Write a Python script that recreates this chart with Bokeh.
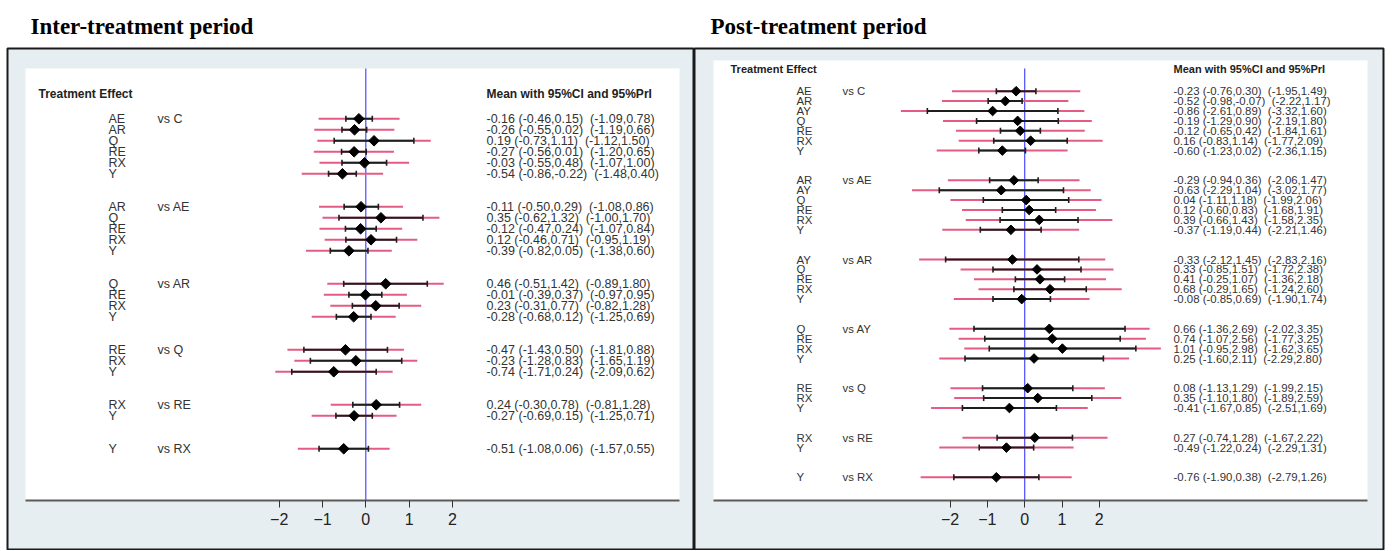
import numpy as np
from bokeh.plotting import figure
from bokeh.layouts import row
from bokeh.models import Range1d, LinearAxis, FixedTicker, BoxAnnotation, ColumnDataSource
from bokeh.core.properties import value
from bokeh.embed import file_html
from bokeh.resources import INLINE

# ---------------- data: Inter-treatment period ----------------
inter_groups = ["vs C", "vs AE", "vs AR", "vs Q", "vs RE", "vs RX"]
inter_treats = [["AE", "AR", "Q", "RE", "RX", "Y"],
                ["AR", "Q", "RE", "RX", "Y"],
                ["Q", "RE", "RX", "Y"],
                ["RE", "RX", "Y"],
                ["RX", "Y"],
                ["Y"]]
inter_mean = [-0.16, -0.26, 0.19, -0.27, -0.03, -0.54,
              -0.11, 0.35, -0.12, 0.12, -0.39,
              0.46, -0.01, 0.23, -0.28,
              -0.47, -0.23, -0.74,
              0.24, -0.27,
              -0.51]
inter_ci_lo = [-0.46, -0.55, -0.73, -0.56, -0.55, -0.86,
               -0.50, -0.62, -0.47, -0.46, -0.82,
               -0.51, -0.39, -0.31, -0.68,
               -1.43, -1.28, -1.71,
               -0.30, -0.69,
               -1.08]
inter_ci_hi = [0.15, 0.02, 1.11, 0.01, 0.48, -0.22,
               0.29, 1.32, 0.24, 0.71, 0.05,
               1.42, 0.37, 0.77, 0.12,
               0.50, 0.83, 0.24,
               0.78, 0.15,
               0.06]
inter_pri_lo = [-1.09, -1.19, -1.12, -1.20, -1.07, -1.48,
                -1.08, -1.00, -1.07, -0.95, -1.38,
                -0.89, -0.97, -0.82, -1.25,
                -1.81, -1.65, -2.09,
                -0.81, -1.25,
                -1.57]
inter_pri_hi = [0.78, 0.66, 1.50, 0.65, 1.00, 0.40,
                0.86, 1.70, 0.84, 1.19, 0.60,
                1.80, 0.95, 1.28, 0.69,
                0.88, 1.19, 0.62,
                1.28, 0.71,
                0.55]

# ---------------- data: Post-treatment period ----------------
post_groups = ["vs C", "vs AE", "vs AR", "vs AY", "vs Q", "vs RE", "vs RX"]
post_treats = [["AE", "AR", "AY", "Q", "RE", "RX", "Y"],
               ["AR", "AY", "Q", "RE", "RX", "Y"],
               ["AY", "Q", "RE", "RX", "Y"],
               ["Q", "RE", "RX", "Y"],
               ["RE", "RX", "Y"],
               ["RX", "Y"],
               ["Y"]]
post_mean = [-0.23, -0.52, -0.86, -0.19, -0.12, 0.16, -0.60,
             -0.29, -0.63, 0.04, 0.12, 0.39, -0.37,
             -0.33, 0.33, 0.41, 0.68, -0.08,
             0.66, 0.74, 1.01, 0.25,
             0.08, 0.35, -0.41,
             0.27, -0.49,
             -0.76]
post_ci_lo = [-0.76, -0.98, -2.61, -1.29, -0.65, -0.83, -1.23,
              -0.94, -2.29, -1.11, -0.60, -0.66, -1.19,
              -2.12, -0.85, -0.25, -0.29, -0.85,
              -1.36, -1.07, -0.95, -1.60,
              -1.13, -1.10, -1.67,
              -0.74, -1.22,
              -1.90]
post_ci_hi = [0.30, -0.07, 0.89, 0.90, 0.42, 1.14, 0.02,
              0.36, 1.04, 1.18, 0.83, 1.43, 0.44,
              1.45, 1.51, 1.07, 1.65, 0.69,
              2.69, 2.56, 2.98, 2.11,
              1.29, 1.80, 0.85,
              1.28, 0.24,
              0.38]
post_pri_lo = [-1.95, -2.22, -3.32, -2.19, -1.84, -1.77, -2.36,
               -2.06, -3.02, -1.99, -1.68, -1.58, -2.21,
               -2.83, -1.72, -1.36, -1.24, -1.90,
               -2.02, -1.77, -1.62, -2.29,
               -1.99, -1.89, -2.51,
               -1.67, -2.29,
               -2.79]
post_pri_hi = [1.49, 1.17, 1.60, 1.80, 1.61, 2.09, 1.15,
               1.47, 1.77, 2.06, 1.91, 2.35, 1.46,
               2.16, 2.38, 2.18, 2.60, 1.74,
               3.35, 3.25, 3.65, 2.80,
               2.15, 2.59, 1.69,
               2.22, 1.31,
               1.26]

tick_values = [-2, -1, 0, 1, 2]

# ---------------- styling / layout ----------------
PINK = "#e45c84"
DARK = "#1e1e1e"
TXT = "#333333"
PANEL_BG = "#e7eef1"
FIG_H = 550
TOP_BORDER = 48
BOTTOM_BORDER = 1
PAGE_TOP = 0


def fmt(v):
    return f"{v:.2f}"


def make_panel(title, groups, treats, mean, lo, hi, plo, phi, g):
    fx = lambda px: (px - g["zero"]) / g["ux"]
    fy = lambda py: (py - g["row0"]) / g["uy"]
    frame_l = g["fig_left"] + g["mbl"]
    frame_r = g["fig_left"] + g["w"] - g["mbr"]
    frame_t = PAGE_TOP + TOP_BORDER
    frame_b = PAGE_TOP + FIG_H - BOTTOM_BORDER

    # row positions (two blank rows between groups)
    ys, tr_flat, grp_y = [], [], []
    i = 0
    for grp in treats:
        grp_y.append(i)
        for t in grp:
            ys.append(i)
            tr_flat.append(t)
            i += 1
        i += 2

    p = figure(width=g["w"], height=FIG_H,
               x_range=Range1d(fx(frame_l), fx(frame_r)),
               y_range=Range1d(fy(frame_b), fy(frame_t)),
               x_axis_type=None, y_axis_type=None,
               toolbar_location=None, output_backend="svg",
               min_border_left=g["mbl"], min_border_right=g["mbr"],
               min_border_top=TOP_BORDER, min_border_bottom=BOTTOM_BORDER,
               background_fill_color=PANEL_BG, border_fill_color="white",
               outline_line_color="#1a1a1a", outline_line_width=2,
               title=title)
    p.title.text_font = "Liberation Serif"
    p.title.text_font_style = "bold"
    p.title.text_font_size = "23px"
    p.title.text_color = "black"
    p.title.align = "left"
    p.title.offset = g["title_off"]
    p.title.standoff = 20

    wl, wt, wr, wb = g["white"]
    p.add_layout(BoxAnnotation(left=fx(wl), right=fx(wr), top=fy(wt), bottom=fy(wb),
                               fill_color="white", fill_alpha=1.0, line_color=None,
                               level="underlay"))

    # zero reference line
    p.segment(x0=[0], y0=[fy(g["blue_top"])], x1=[0], y1=[fy(wb)],
              line_color="#4a4aff", line_width=1.2)

    txt = [f"{fmt(m)} ({fmt(a)},{fmt(b)})\u00a0 ({fmt(c)},{fmt(d)})"
           for m, a, b, c, d in zip(mean, lo, hi, plo, phi)]
    src = ColumnDataSource(dict(y=ys, mean=mean, lo=lo, hi=hi, plo=plo, phi=phi,
                                treat=tr_flat, txt=txt))

    p.segment(x0="plo", y0="y", x1="phi", y1="y", source=src,
              line_color=PINK, line_width=2)
    p.segment(x0="lo", y0="y", x1="hi", y1="y", source=src,
              line_color=DARK, line_width=2)
    for col in ("lo", "hi"):
        p.scatter(x=col, y="y", source=src, marker="dash", angle=np.pi / 2,
                  size=6, line_color=DARK, line_width=1.6)
    p.scatter(x="mean", y="y", source=src, marker="square", angle=np.pi / 4,
              size=g["msize"], fill_color="black", line_color="black")

    fs = g["fs"]
    p.text(x=fx(g["lab_x"]), y="y", text="treat", source=src,
           text_font=value("Liberation Sans"), text_font_size=fs,
           text_color=TXT, text_baseline="middle", text_align="left")
    p.text(x=[fx(g["vs_x"])] * len(groups), y=grp_y, text=groups,
           text_font=value("Liberation Sans"), text_font_size=fs,
           text_color=TXT, text_baseline="middle", text_align="left")
    p.text(x=fx(g["val_x"]), y="y", text="txt", source=src,
           text_font=value("Liberation Sans"), text_font_size=fs,
           text_color=TXT, text_baseline="middle", text_align="left")
    hy = fy(g["hdr_y"])
    p.text(x=[fx(g["te_x"]), fx(g["val_x"])], y=[hy, hy],
           text=["Treatment Effect", "Mean with 95%CI and 95%PrI"],
           text_font=value("Liberation Sans"), text_font_size=g["hfs"],
           text_font_style="bold", text_color="#222222",
           text_baseline="middle", text_align="left")

    ax = LinearAxis(ticker=FixedTicker(ticks=tick_values),
                    fixed_location=fy(wb), bounds=(fx(wl), fx(wr)),
                    axis_line_color="#5a5a5a", axis_line_width=2,
                    major_tick_line_color="#333333", major_tick_line_width=1,
                    major_tick_out=7, major_tick_in=0,
                    minor_tick_line_color=None,
                    major_label_text_font="Liberation Sans",
                    major_label_text_font_size="16px",
                    major_label_text_color="#222222",
                    major_label_standoff=5)
    p.add_layout(ax, "below")
    return p


left_geo = dict(fig_left=0, w=694, mbl=7, mbr=0,
                zero=365.3, ux=43.3, row0=118.3, uy=11.0,
                white=(25, 68, 679, 500), blue_top=68,
                hdr_y=93, te_x=38, lab_x=108, vs_x=157, val_x=486,
                fs="12.5px", hfs="12px", title_off=23, msize=7.5)
right_geo = dict(fig_left=694, w=696, mbl=0, mbr=7,
                 zero=1024.2, ux=37.3, row0=90.7, uy=9.9,
                 white=(713, 60, 1367, 500), blue_top=68,
                 hdr_y=68, te_x=730, lab_x=796, vs_x=842, val_x=1173,
                 fs="11.4px", hfs="11px", title_off=16, msize=6.8)

p1 = make_panel("Inter-treatment period", inter_groups, inter_treats,
                inter_mean, inter_ci_lo, inter_ci_hi, inter_pri_lo, inter_pri_hi, left_geo)
p2 = make_panel("Post-treatment period", post_groups, post_treats,
                post_mean, post_ci_lo, post_ci_hi, post_pri_lo, post_pri_hi, right_geo)

layout = row(p1, p2, spacing=0)
open("out.html", "w").write(file_html(layout, INLINE))
